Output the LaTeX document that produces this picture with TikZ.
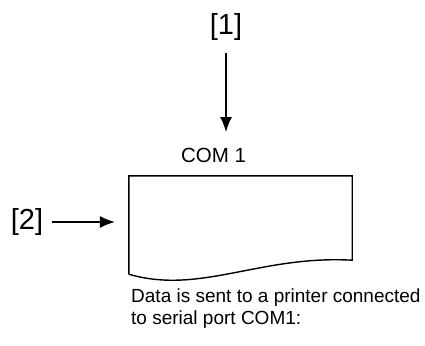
\documentclass[tikz,border=0pt]{standalone}
\usepackage{fontspec}
\setmainfont{Liberation Sans}
\usetikzlibrary{calc}
\usetikzlibrary{arrows.meta}

\begin{document}
\begin{tikzpicture}[x=1pt,y=-1pt]
		\tikzset{flecha/.style={-{Latex[length=15pt,width=12pt]},line width=1.3pt}}
		\useasboundingbox (0,0) rectangle (425,345);
		\node (1) at (226,27) [inner sep=0pt,font=\fontsize{29}{32}\selectfont] {[1]};
		\node (2) at (27,222) [inner sep=0pt,font=\fontsize{29}{32}\selectfont] {[2]};
		\node (com) at (213.5,155) [inner sep=0pt,font=\fontsize{20.5}{22}\selectfont] {COM 1};
		\node (doc) at (240.5,218) [minimum width=223pt,minimum height=84pt,inner sep=0pt] {};
		\node (txt) at (131,309) [anchor=west,align=left,inner sep=0pt,font=\fontsize{19}{22}\selectfont] {Data is sent to a printer connected\\to serial port COM1:};
		
		\coordinate (ola) at ($ (doc.south west)+(0,14) $);  % esquina baja izquierda
		
		%Documento
		\draw[line width=1.4pt,line join=miter] (ola) -- (doc.north west) -- (doc.north east) -- (doc.south east)
		  .. controls (260,255) and (200,295) .. (ola);
		
		%Flechas
		\draw[flecha,shorten <=12pt,shorten >=23pt] (1) to (1 |- com);
		\draw[flecha,shorten <=9pt,shorten >=14pt] (2) to (doc.west |- 2);
	\end{tikzpicture}
\end{document}
